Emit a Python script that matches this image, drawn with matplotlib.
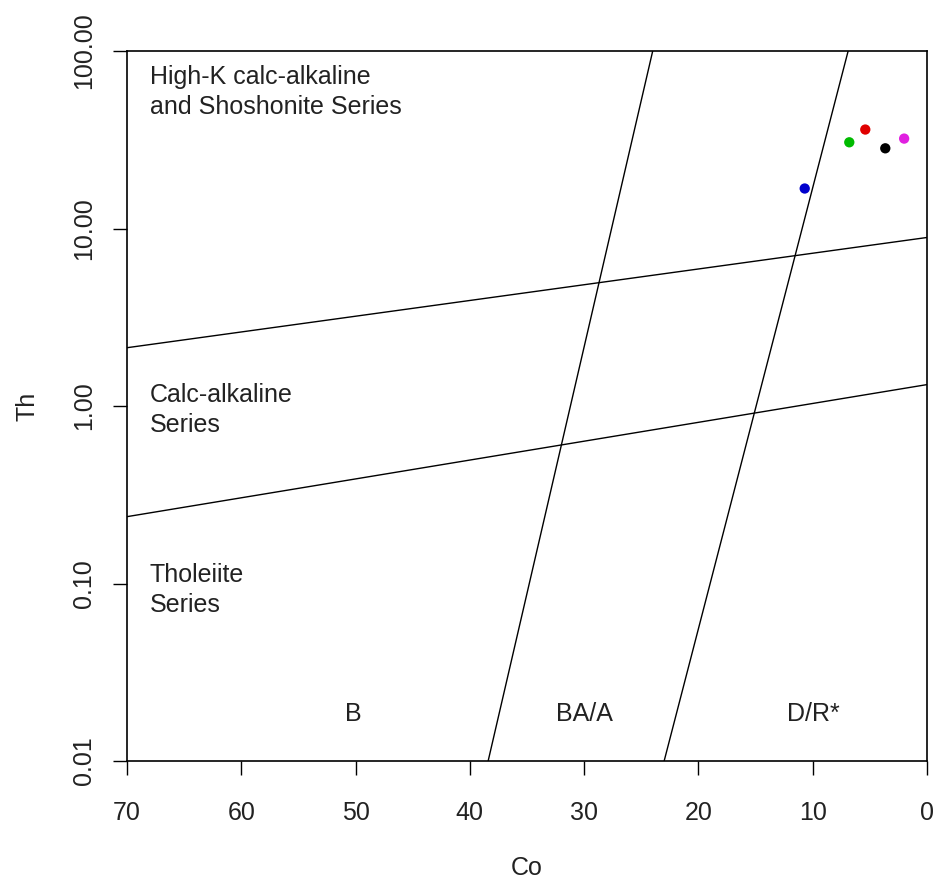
import matplotlib
matplotlib.use('Agg')
import matplotlib.pyplot as plt

plt.rcParams['font.family'] = ['Liberation Sans', 'DejaVu Sans']

# sample points (Co, Th)
co = [10.7, 6.8, 5.4, 3.65, 2.0]
th = [16.8, 30.6, 36.1, 28.3, 32.1]
colors = ['#0000CD', '#00BB00', '#E00000', '#000000', '#E020E0']

# field boundaries
line_a_co = [70, 0]
line_a_th = [2.13, 8.9]
line_b_co = [70, 0]
line_b_th = [0.238, 1.32]
line_c_co = [38.4, 24.0]
line_c_th = [0.01, 100]
line_d_co = [23.0, 6.9]
line_d_th = [0.01, 100]

yticks = [0.01, 0.1, 1, 10, 100]
ytick_labels = ['0.01', '0.10', '1.00', '10.00', '100.00']
xticks = [70, 60, 50, 40, 30, 20, 10, 0]

fig = plt.figure(figsize=(9.35, 8.81), dpi=100)
ax = fig.add_axes([127 / 935, 120 / 881, 800 / 935, 710 / 881])

for xs, ys in [(line_a_co, line_a_th), (line_b_co, line_b_th),
               (line_c_co, line_c_th), (line_d_co, line_d_th)]:
    ax.plot(xs, ys, color='black', linewidth=1.0)

ax.scatter(co, th, c=colors, s=55, zorder=3, edgecolors='none')

ax.set_yscale('log')
ax.set_xlim(70, 0)
ax.set_ylim(0.01, 100)
ax.minorticks_off()
ax.set_yticks(yticks)
ax.set_yticklabels(ytick_labels, rotation=90, va='center')
ax.set_xticks(xticks)
ax.set_xticklabels([str(v) for v in xticks])
ax.tick_params(axis='both', length=10, width=1, labelsize=18, color='black', labelcolor='#222222')
ax.tick_params(axis='x', pad=19)
ax.tick_params(axis='y', pad=12)
for s in ax.spines.values():
    s.set_linewidth(1.2)

ax.set_xlabel('Co', fontsize=18, labelpad=22, color='#222222')
ax.set_ylabel('Th', fontsize=18, labelpad=24, color='#222222')

txt = dict(fontsize=18, color='#222222', linespacing=1.32)
ax.text(68.0, 59, 'High-K calc-alkaline\nand Shoshonite Series', ha='left', va='center', **txt)
ax.text(68.0, 0.944, 'Calc-alkaline\nSeries', ha='left', va='center', **txt)
ax.text(68.0, 0.092, 'Tholeiite\nSeries', ha='left', va='center', **txt)
ax.text(50.2, 0.0185, 'B', ha='center', va='center', **txt)
ax.text(30.0, 0.0185, 'BA/A', ha='center', va='center', **txt)
ax.text(9.9, 0.0185, 'D/R*', ha='center', va='center', **txt)

fig.savefig('out.png', dpi=100)
